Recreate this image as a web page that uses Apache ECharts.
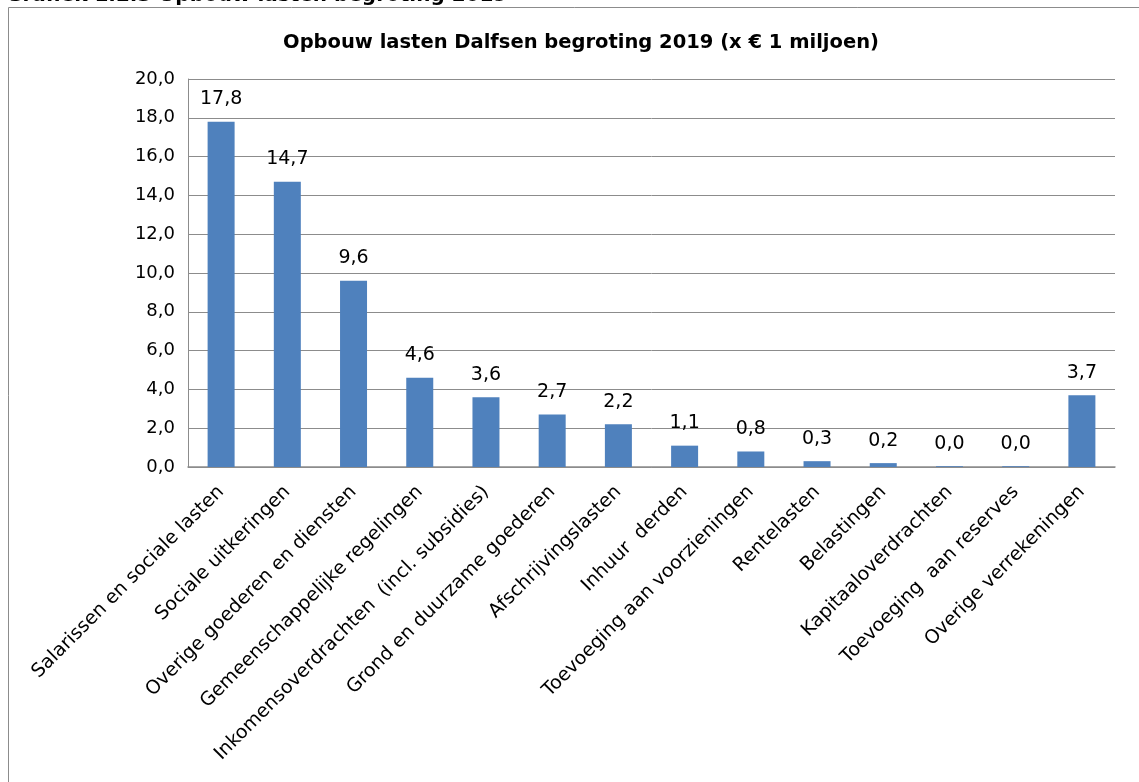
<!DOCTYPE html>
<html>
<head>
<meta charset="utf-8">
<script src="https://cdn.jsdelivr.net/npm/echarts@6/dist/echarts.min.js"></script>
<style>
  html, body { margin: 0; padding: 0; background: #fff; }
  #chart { width: 1139px; height: 782px; }
</style>
</head>
<body>
<div id="chart"></div>
<script>
// categorieen en waarden (x € 1 miljoen)
const categories = [
  'Salarissen en sociale lasten',
  'Sociale uitkeringen',
  'Overige goederen en diensten',
  'Gemeenschappelijke regelingen',
  'Inkomensoverdrachten  (incl. subsidies)',
  'Grond en duurzame goederen',
  'Afschrijvingslasten',
  'Inhuur  derden',
  'Toevoeging aan voorzieningen',
  'Rentelasten',
  'Belastingen',
  'Kapitaaloverdrachten',
  'Toevoeging  aan reserves',
  'Overige verrekeningen'
]
const lasten = [17.8, 14.7, 9.6, 4.6, 3.6, 2.7, 2.2, 1.1, 0.8, 0.3, 0.2, 0.04, 0.04, 3.7]
const yTicks = [0, 2, 4, 6, 8, 10, 12, 14, 16, 18, 20]

const fmt = v => v.toFixed(1).replace('.', ',')
const font = 'Verdana, "DejaVu Sans", sans-serif'

const chart = echarts.init(document.getElementById('chart'))

chart.setOption({
  animation: false,
  title: {
    text: 'Opbouw lasten Dalfsen begroting 2019 (x € 1 miljoen)',
    left: 576,
    textAlign: 'center',
    top: 28,
    textStyle: { fontFamily: font, fontSize: 19.5, fontWeight: 'bold', color: '#000' }
  },
  graphic: [
    {
      // kop boven de grafiek, grotendeels buiten beeld
      type: 'text',
      x: 6,
      y: -4,
      style: {
        text: 'Grafiek 1.2.3 Opbouw lasten begroting 2019',
        font: 'bold 20px ' + font,
        fill: '#000',
        verticalAlign: 'middle'
      }
    },
    {
      type: 'rect',
      shape: { x: 8.5, y: 7.5, width: 1200, height: 900 },
      style: { fill: null, stroke: '#8c8c8c', lineWidth: 1 }
    }
  ],
  grid: { left: 188, right: 24, top: 79, bottom: 315 },
  xAxis: {
    type: 'category',
    data: categories,
    axisLine: { lineStyle: { color: '#8c8c8c', width: 1.5 } },
    axisTick: { show: false },
    axisLabel: {
      rotate: 45,
      interval: 0,
      margin: 22,
      fontFamily: font,
      fontSize: 19,
      color: '#000'
    }
  },
  yAxis: {
    type: 'value',
    min: yTicks[0],
    max: yTicks[yTicks.length - 1],
    interval: 2,
    axisLine: { show: true, lineStyle: { color: '#8c8c8c', width: 1 } },
    axisTick: { show: false },
    splitLine: { lineStyle: { color: '#8c8c8c', width: 1 } },
    axisLabel: {
      formatter: v => fmt(v),
      margin: 13,
      fontFamily: font,
      fontSize: 18,
      color: '#000'
    }
  },
  series: [{
    type: 'bar',
    data: lasten,
    barWidth: 27,
    itemStyle: { color: '#4f81bd' },
    label: {
      show: true,
      position: 'top',
      distance: 13,
      formatter: p => fmt(p.value),
      fontFamily: font,
      fontSize: 19,
      color: '#000'
    }
  }]
})
</script>
</body>
</html>
